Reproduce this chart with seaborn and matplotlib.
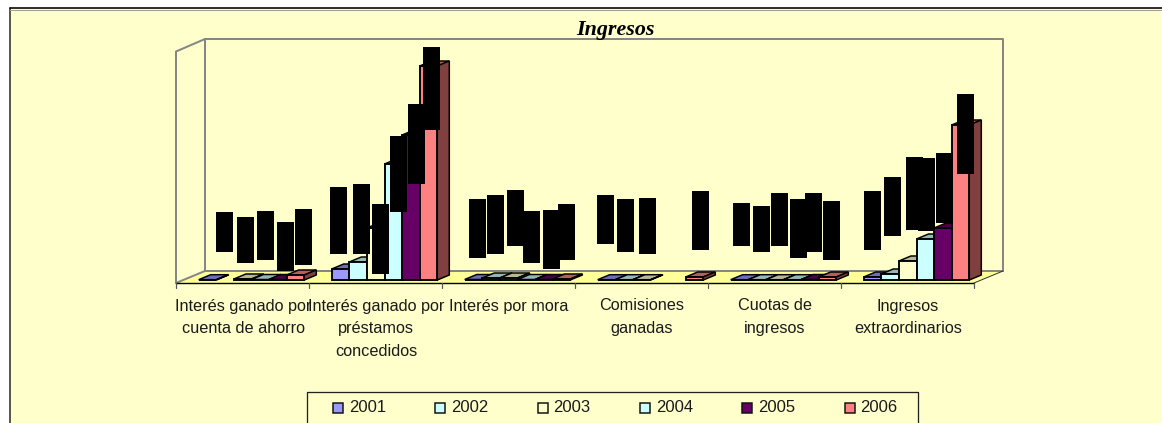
import numpy as np
import pandas as pd
import matplotlib
matplotlib.use("Agg")
import matplotlib.pyplot as plt
from matplotlib.patches import Polygon, Rectangle
from matplotlib.colors import to_rgb
import seaborn as sns

nan = float("nan")
categories = ["Interés ganado por\ncuenta de ahorro",
              "Interés ganado por\npréstamos\nconcedidos",
              "Interés por mora",
              "Comisiones\nganadas",
              "Cuotas de\ningresos",
              "Ingresos\nextraordinarios"]
years = ["2001", "2002", "2003", "2004", "2005", "2006"]
v2001 = [0.3, 11, 0.5, 0.3, 0.3, 3]
v2002 = [nan, 18, 2, 0.3, 0.3, 6]
v2003 = [1, 52, 2, 0.3, 0.3, 19]
v2004 = [0.5, 116, 0.5, nan, 0.3, 41]
v2005 = [0.5, 145, 0.5, nan, 0.5, 52]
v2006 = [5, 214, 1, 3, 3, 155]
series = [v2001, v2002, v2003, v2004, v2005, v2006]
colors = ["#9999FF", "#CCFFFF", "#FFFFCC", "#CCFFFF", "#660066", "#FF8080"]

# Redacted data labels, as black blocks (left edge, top, bottom in reference pixels)
label_left = [216, 237, 257, 277, 295,
              330, 353, 372, 390, 408, 423,
              469, 487, 507, 523, 543, 558,
              597, 617, 639, 692,
              733, 753, 771, 790, 805, 823,
              864, 884, 906, 918, 936, 957]
label_top = [212, 217, 211, 222, 209,
             187, 184, 204, 136, 104, 47,
             199, 195, 190, 211, 210, 204,
             195, 199, 198, 191,
             203, 206, 193, 199, 193, 201,
             191, 177, 157, 158, 153, 94]
label_bottom = [252, 263, 260, 271, 265,
                254, 254, 274, 212, 184, 130,
                258, 254, 246, 263, 269, 260,
                244, 252, 254, 250,
                246, 252, 246, 258, 252, 260,
                250, 236, 230, 231, 223, 174]
label_width = 17

BG = "#FFFFCC"
FLOOR = "#FFFF99"
GRAY = "#868686"
W, H = 1162, 423
PT = 0.72

df = pd.DataFrame({"cat": np.repeat(np.arange(6), 6),
                   "year": years * 6,
                   "val": np.array(series).T.ravel()})

sns.set_theme(style="white")
plt.rcParams["font.family"] = ["Liberation Sans", "DejaVu Sans"]
fig = plt.figure(figsize=(W / 100, H / 100), dpi=100, facecolor="white")

# Back layer: chart area, walls, floor
bg = fig.add_axes([0, 0, 1, 1], zorder=0)
bg.set_xlim(0, W); bg.set_ylim(H, 0); bg.axis("off")
bg.add_patch(Rectangle((9.5, 8.5), W, H, fc=BG, ec="none"))
bg.plot([9.5, 9.5], [8.5, H], color="#222222", lw=1.5 * PT)
bg.plot([9.5, W], [8.5, 8.5], color="black", lw=1.6 * PT)
bg.plot([9.5, W], [10, 10], color="#a0a090", lw=1 * PT)
bg.add_patch(Polygon([(176, 283), (205, 271), (1003, 271), (974, 283)], fc=FLOOR, ec="none"))
bg.plot([205, 205, 1003, 1003], [271, 39, 39, 271], color=GRAY, lw=2 * PT)
bg.plot([176, 176, 205], [283, 51.5, 39], color=GRAY, lw=2 * PT)
bg.plot([176, 205, 1003], [283, 271, 271], color=GRAY, lw=2 * PT)
bg.plot([974, 1003], [283, 271], color="#333333", lw=1 * PT)
bg.plot([176, 974], [283, 283], color="black", lw=1.4 * PT)
for k in range(7):
    bg.plot([176 + 133 * k] * 2, [283, 288], color="#555555", lw=1.2 * PT)

# Bars
ax = fig.add_axes([185 / W, (H - 280) / H, 798 / W, 231.5 / H], zorder=1)
ax.patch.set_alpha(0)
sns.barplot(data=df, x="cat", y="val", hue="year", palette=colors, hue_order=years,
            width=0.794, gap=0, saturation=1, edgecolor="black", linewidth=1.9 * PT,
            legend=False, ax=ax)
ax.set_xlim(-0.5, 5.5)
ax.set_ylim(0, 231.5)
ax.axis("off")
dx, dy = 12 / 133, 5.0
for i, cont in enumerate(ax.containers):
    base = np.array(to_rgb(colors[i]))
    for p in cont.patches:
        h = p.get_height()
        if not np.isfinite(h) or h <= 0:
            p.set_visible(False)
            continue
        x0, w = p.get_x(), p.get_width()
        z = 2 + i * 0.1
        p.set_zorder(z + 0.02)
        p.set_clip_on(False)
        ax.add_patch(Polygon([(x0, h), (x0 + dx, h + dy), (x0 + w + dx, h + dy), (x0 + w, h)],
                             fc=base * 0.72, ec="black", lw=1.5 * PT, zorder=z, clip_on=False))
        ax.add_patch(Polygon([(x0 + w, 0), (x0 + w + dx, dy), (x0 + w + dx, h + dy), (x0 + w, h)],
                             fc=base * 0.5, ec="black", lw=1.5 * PT, zorder=z, clip_on=False))

# Front layer: labels, title, legend
ov = fig.add_axes([0, 0, 1, 1], zorder=2)
ov.patch.set_alpha(0)
ov.set_xlim(0, W); ov.set_ylim(H, 0); ov.axis("off")
for l, t, b in zip(label_left, label_top, label_bottom):
    ov.add_patch(Rectangle((l, t), label_width, b - t, fc="black", ec="none"))
for k, c in enumerate(categories):
    ov.text(243 + 133 * k, 298.5, c, ha="center", va="top", fontsize=11.7,
            color="#1a1a1a", linespacing=1.66)
ov.text(615.5, 30, "Ingresos", ha="center", va="center", fontsize=15.8,
        family=["Liberation Serif"], style="italic", weight="bold", color="black")

ov.plot([307, 307, 918, 918], [H, 392, 392, H], color="#222222", lw=1.3 * PT)
for i, y in enumerate(years):
    x = 333 + 102.3 * i
    ov.add_patch(Rectangle((x, 403), 10, 10, fc=colors[i], ec="#111111", lw=1.5 * PT))
    ov.text(x + 16, 408, y, ha="left", va="center", fontsize=12, color="#1a1a1a")

fig.savefig("out.png", dpi=100, facecolor="white")
